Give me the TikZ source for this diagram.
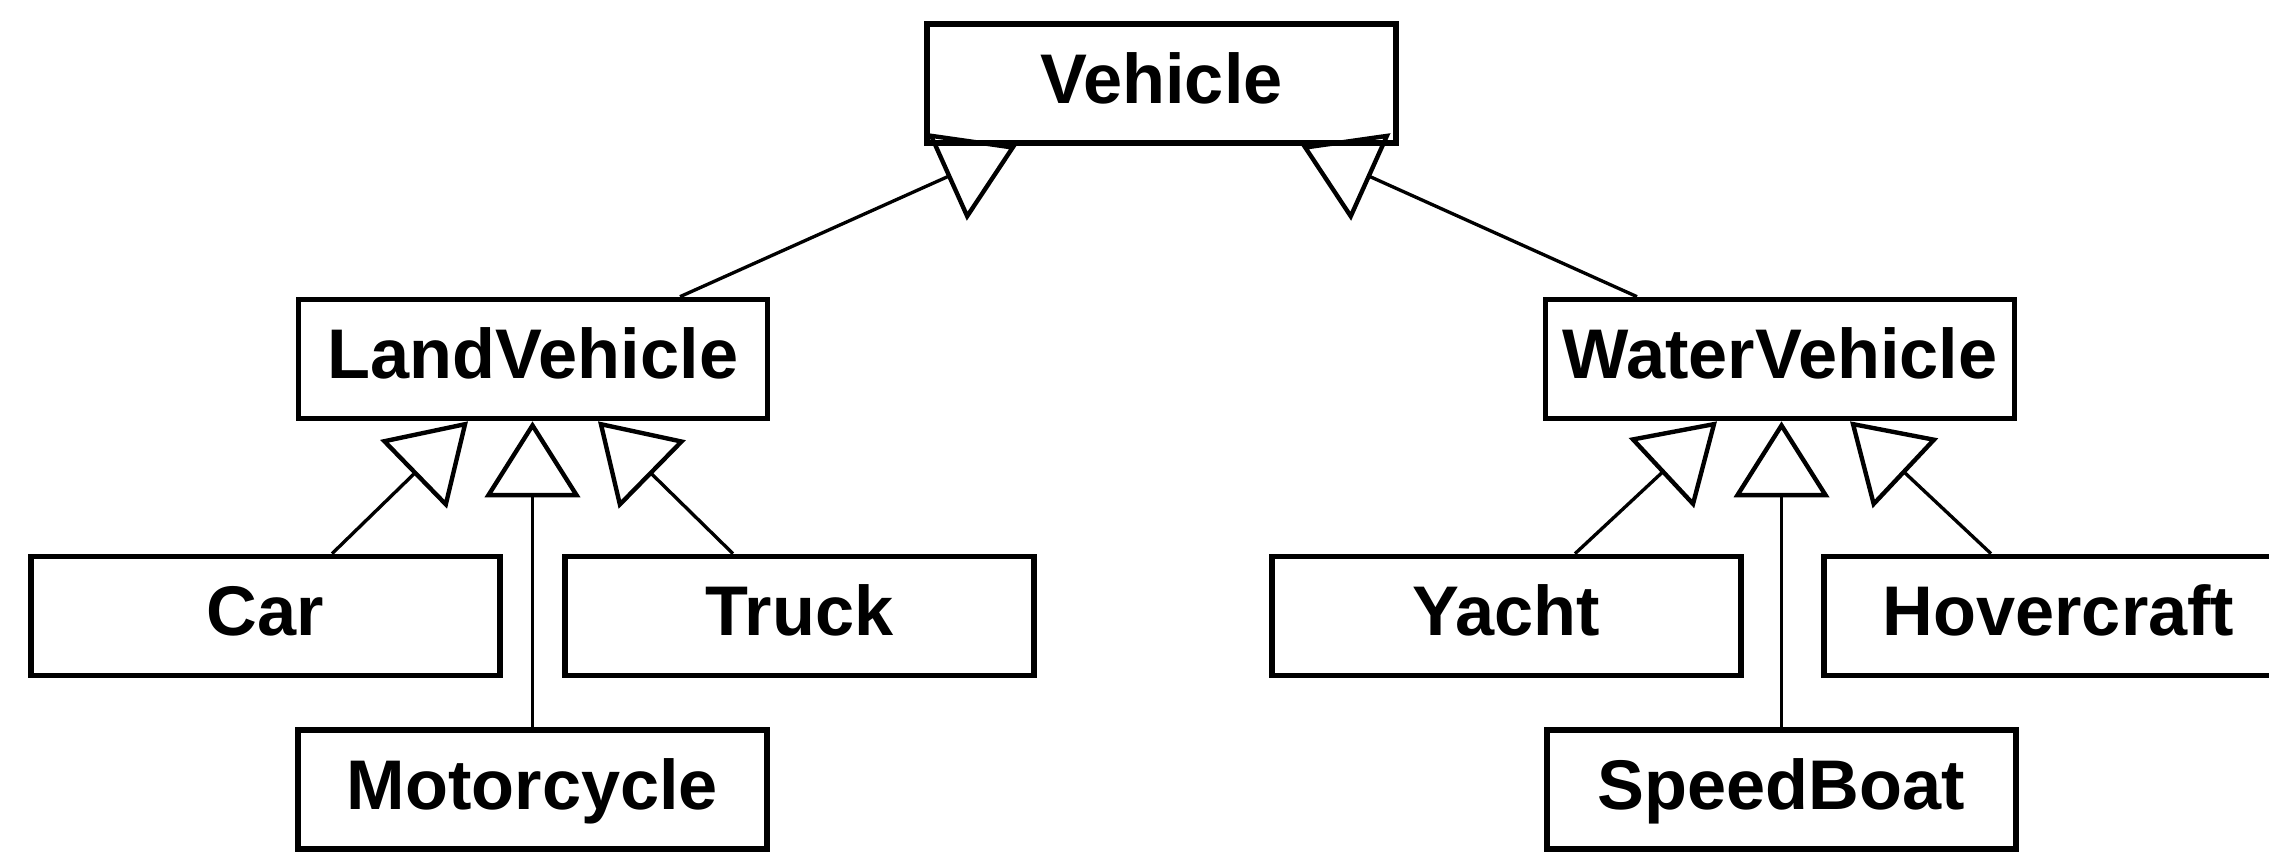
\documentclass[tikz,border=0pt]{standalone}
\usepackage{fontspec}
\setmainfont{Liberation Sans}
\usetikzlibrary{arrows.meta}

\begin{document}
\begin{tikzpicture}[
        cls/.style={draw, line width=1.6pt, fill=white, minimum width=4.69cm,
                    minimum height=1.19cm, inner sep=0pt,
                    font=\fontsize{20}{24}\selectfont\bfseries,
                    text height=14.4pt, text depth=3.3pt},
        isa/.style={line width=0.95pt,
                    -{Triangle[open, length=0.76cm, width=0.95cm, line width=1.25pt]}}]
        \useasboundingbox (0,0) rectangle (22.69,8.54);
        \clip (0,0) rectangle (22.69,8.54);
        % class boxes
        \node[cls] (vehicle) at (11.615,7.705) {Vehicle};
        \node[cls] (land)    at (5.33,4.95)    {LandVehicle};
        \node[cls] (water)   at (17.80,4.95)   {WaterVehicle};
        \node[cls] (car)     at (2.655,2.38)   {Car};
        \node[cls] (truck)   at (7.995,2.38)   {Truck};
        \node[cls] (moto)    at (5.325,0.645)  {Motorcycle};
        \node[cls] (yacht)   at (15.065,2.38)  {Yacht};
        \node[cls] (hover)   at (20.585,2.38)  {Hovercraft};
        \node[cls] (speed)   at (17.815,0.645) {SpeedBoat};
        % generalisations
        \draw[isa] ([xshift=1.47cm]land.north)   -- ([xshift=-1.45cm]vehicle.south);
        \draw[isa] ([xshift=-1.43cm]water.north) -- ([xshift=1.40cm]vehicle.south);
        \draw[isa] ([xshift=0.665cm]car.north)   -- ([xshift=-0.65cm]land.south);
        \draw[isa] (moto.north)                  -- (moto.north |- land.south);
        \draw[isa] ([xshift=-0.665cm]truck.north) -- ([xshift=0.65cm]land.south);
        \draw[isa] ([xshift=0.685cm]yacht.north) -- ([xshift=-0.63cm]water.south);
        \draw[isa] (speed.north)                 -- (speed.north |- water.south);
        \draw[isa] ([xshift=-0.675cm]hover.north) -- ([xshift=0.70cm]water.south);
    \end{tikzpicture}
\end{document}
